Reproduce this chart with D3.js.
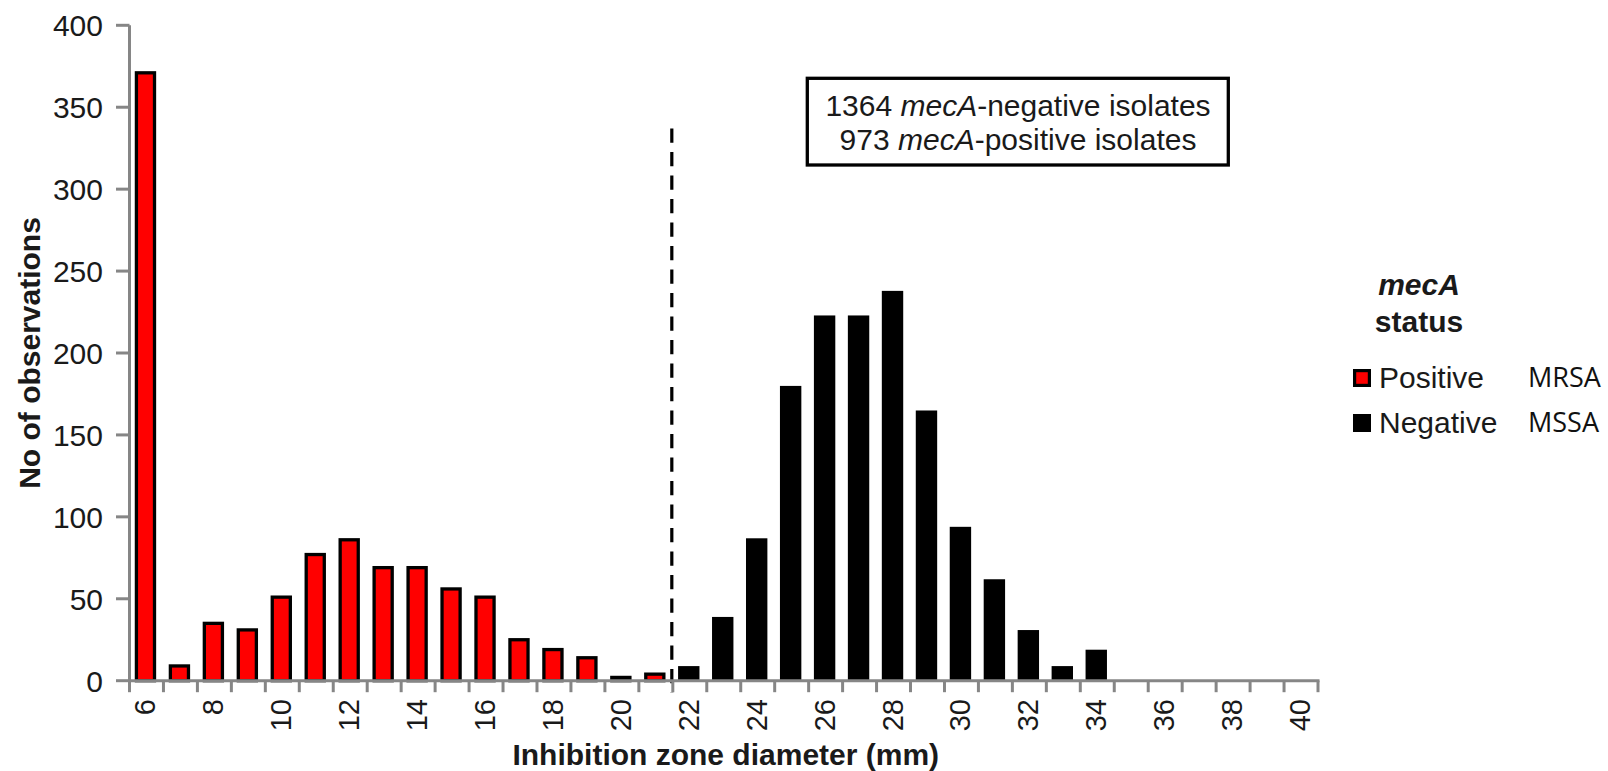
<!DOCTYPE html>
<html>
<head>
<meta charset="utf-8">
<script src="https://cdn.jsdelivr.net/npm/d3@7"></script>
<style>
  html, body { margin: 0; padding: 0; background: #fff; }
  svg { display: block; }
</style>
</head>
<body>
<div id="chart"></div>
<script>
// zone diameters (mm) on the x axis
const diameters = d3.range(6, 41);
// mecA-positive (MRSA) counts, 6..21 mm
const positiveZones = [6, 7, 8, 9, 10, 11, 12, 13, 14, 15, 16, 17, 18, 19, 20, 21];
const positiveCounts = [371, 9, 35, 31, 51, 77, 86, 69, 69, 56, 51, 25, 19, 14, 2, 4];
// mecA-negative (MSSA) counts, 22..34 mm
const negativeZones = [22, 23, 24, 25, 26, 27, 28, 29, 30, 31, 32, 33, 34];
const negativeCounts = [8, 38, 86, 179, 222, 222, 237, 164, 93, 61, 30, 8, 18];
const yTicks = [0, 50, 100, 150, 200, 250, 300, 350, 400];
const xLabels = d3.range(6, 41, 2);
// breakpoint drawn as the dashed line
const cutoffZone = 22;
const cutoffTop = 337;

const W = 1608, H = 771;
const plot = {left: 129.5, right: 1318, top: 25.3, bottom: 680.7};
const font = "'Liberation Sans', Arial, sans-serif";
const axisColor = "#868686";
const textColor = "#1a1a1a";

const svg = d3.select("#chart").append("svg")
  .attr("width", W)
  .attr("height", H);

const x = d3.scaleBand()
  .domain(diameters)
  .range([plot.left, plot.right]);

const y = d3.scaleLinear()
  .domain([0, 400])
  .range([plot.bottom, plot.top]);

const bw = x.bandwidth();
const barOff = bw * 0.155;
const barW = bw * 0.63;

function barsCreate(){
  const g = svg.append("g");
  const sw = 3.3;
  g.selectAll("rect.pos")
    .data(positiveZones.map((z, i) => ({z: z, v: positiveCounts[i]})))
    .enter()
    .append("rect")
    .attr("class", "pos")
    .attr("x", d => x(d.z) + barOff + sw / 2)
    .attr("y", d => y(d.v))
    .attr("width", barW - sw)
    .attr("height", d => y(0) - y(d.v))
    .attr("fill", "#ff0000")
    .attr("stroke", "#000")
    .attr("stroke-width", sw);
  g.selectAll("rect.neg")
    .data(negativeZones.map((z, i) => ({z: z, v: negativeCounts[i]})))
    .enter()
    .append("rect")
    .attr("class", "neg")
    .attr("x", d => x(d.z) + barOff)
    .attr("y", d => y(d.v) - 1.5)
    .attr("width", barW)
    .attr("height", d => y(0) - y(d.v) + 1.5)
    .attr("fill", "#000");
}

function axisCreate(){
  const g = svg.append("g");
  // y axis
  g.append("line")
    .attr("x1", plot.left).attr("x2", plot.left)
    .attr("y1", y(400)).attr("y2", plot.bottom + 1.5)
    .attr("stroke", axisColor).attr("stroke-width", 3);
  g.selectAll("line.yt")
    .data(yTicks)
    .enter()
    .append("line")
    .attr("class", "yt")
    .attr("x1", plot.left - 13.5).attr("x2", plot.left)
    .attr("y1", d => y(d)).attr("y2", d => y(d))
    .attr("stroke", axisColor).attr("stroke-width", 3);
  g.selectAll("text.yl")
    .data(yTicks)
    .enter()
    .append("text")
    .attr("class", "yl")
    .attr("x", 103)
    .attr("y", d => y(d))
    .attr("dy", "0.36em")
    .attr("text-anchor", "end")
    .attr("font-family", font)
    .attr("font-size", 30)
    .attr("fill", textColor)
    .text(d => d);

  // x axis
  g.append("line")
    .attr("x1", plot.left - 1.5).attr("x2", plot.right + 1.5)
    .attr("y1", plot.bottom).attr("y2", plot.bottom)
    .attr("stroke", axisColor).attr("stroke-width", 3);
  const bounds = diameters.map(d => x(d)).concat([plot.right]);
  g.selectAll("line.xt")
    .data(bounds)
    .enter()
    .append("line")
    .attr("class", "xt")
    .attr("x1", d => d).attr("x2", d => d)
    .attr("y1", plot.bottom).attr("y2", plot.bottom + 11.5)
    .attr("stroke", axisColor).attr("stroke-width", 3);
  g.selectAll("text.xl")
    .data(xLabels)
    .enter()
    .append("text")
    .attr("class", "xl")
    .attr("transform", d => `translate(${x(d) + bw / 2 - 1},699) rotate(-90)`)
    .attr("text-anchor", "end")
    .attr("dominant-baseline", "central")
    .attr("font-family", font)
    .attr("font-size", 29)
    .attr("fill", textColor)
    .text(d => d);

  // titles
  svg.append("text")
    .attr("x", (plot.left + plot.right) / 2 + 2)
    .attr("y", 765)
    .attr("text-anchor", "middle")
    .attr("font-family", font)
    .attr("font-weight", "bold")
    .attr("font-size", 30)
    .attr("fill", textColor)
    .text("Inhibition zone diameter (mm)");
  svg.append("text")
    .attr("transform", "translate(29,353) rotate(-90)")
    .attr("text-anchor", "middle")
    .attr("dominant-baseline", "central")
    .attr("font-family", font)
    .attr("font-weight", "bold")
    .attr("font-size", 30)
    .attr("fill", textColor)
    .text("No of observations");
}

function cutoffCreate(){
  const cx = x(cutoffZone) - 1;
  svg.append("line")
    .attr("x1", cx).attr("x2", cx)
    .attr("y1", y(cutoffTop)).attr("y2", plot.bottom + 12)
    .attr("stroke", "#000")
    .attr("stroke-width", 3.2)
    .attr("stroke-dasharray", "14.3, 9.2");
}

function boxCreate(){
  const g = svg.append("g");
  g.append("rect")
    .attr("x", 807.3).attr("y", 78.3)
    .attr("width", 421).attr("height", 86.7)
    .attr("fill", "#fff")
    .attr("stroke", "#000")
    .attr("stroke-width", 3.3);
  const lines = [
    {n: "1364", rest: "-negative isolates", y: 116},
    {n: "973", rest: "-positive isolates", y: 150}
  ];
  lines.forEach(l => {
    const t = g.append("text")
      .attr("x", 1018)
      .attr("y", l.y)
      .attr("text-anchor", "middle")
      .attr("font-family", font)
      .attr("font-size", 30)
      .attr("fill", textColor);
    t.append("tspan").text(l.n + " ");
    t.append("tspan").attr("font-style", "italic").text("mecA");
    t.append("tspan").text(l.rest);
  });
}

function legendCreate(){
  const g = svg.append("g");
  g.append("text")
    .attr("x", 1419).attr("y", 295)
    .attr("text-anchor", "middle")
    .attr("font-family", font)
    .attr("font-weight", "bold")
    .attr("font-style", "italic")
    .attr("font-size", 30)
    .attr("fill", textColor)
    .text("mecA");
  g.append("text")
    .attr("x", 1419).attr("y", 332)
    .attr("text-anchor", "middle")
    .attr("font-family", font)
    .attr("font-weight", "bold")
    .attr("font-size", 30)
    .attr("fill", textColor)
    .text("status");

  const items = [
    {label: "Positive", tag: "MRSA", fill: "#ff0000", cy: 378},
    {label: "Negative", tag: "MSSA", fill: "#000", cy: 423}
  ];
  items.forEach(it => {
    g.append("rect")
      .attr("x", 1354.6).attr("y", it.cy - 7.4)
      .attr("width", 14.8).attr("height", 14.8)
      .attr("fill", it.fill)
      .attr("stroke", "#000")
      .attr("stroke-width", 3.2);
    g.append("text")
      .attr("x", 1379).attr("y", it.cy + 10)
      .attr("font-family", font)
      .attr("font-size", 30)
      .attr("fill", textColor)
      .text(it.label);
    g.append("text")
      .attr("x", 1528).attr("y", it.cy + 9)
      .attr("font-family", "'Open Sans', 'Noto Sans', sans-serif")
      .attr("font-size", 27)
      .attr("fill", "#111")
      .text(it.tag);
  });
}

barsCreate();
cutoffCreate();
axisCreate();
boxCreate();
legendCreate();
</script>
</body>
</html>
